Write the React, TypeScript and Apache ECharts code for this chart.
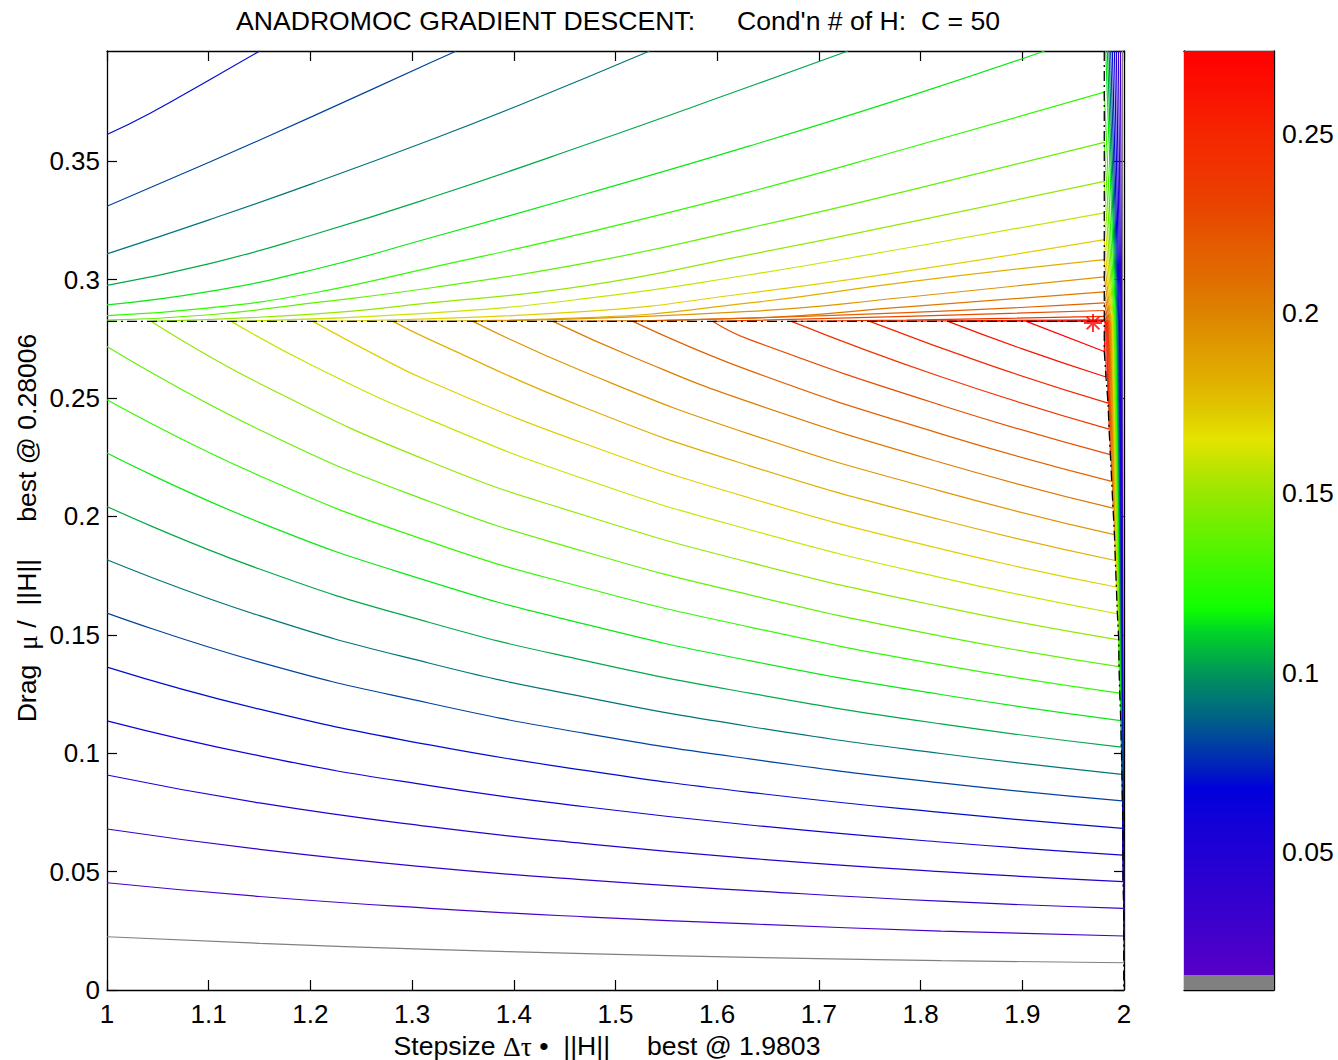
import React, { useEffect, useRef } from "react";
import * as echarts from "echarts";

// ---------- axes ----------
const X_MIN = 1;
const X_MAX = 2;
const X_STEP = 0.1;
const Y_MIN = 0;
const Y_MAX = 0.3966;
const Y_STEP = 0.05;
const CBAR_MIN = 0.0116;
const CBAR_MAX = 0.2731;
const CBAR_TICKS = [0.05, 0.1, 0.15, 0.2, 0.25];
const CBAR_GRAY = [0.0116, 0.0158];

// ---------- contour levels (24 levels) ----------
const LEVELS = [
  0.0135, 0.0248, 0.036, 0.0473, 0.0585, 0.0698, 0.081, 0.0923, 0.1035, 0.1148, 0.126, 0.1373,
  0.1485, 0.1598, 0.171, 0.1823, 0.1935, 0.2048, 0.216, 0.2273, 0.2385, 0.2498, 0.261, 0.2723,
];

// ---------- colormap ----------
const CMAP_VALUES = [
  0.0158, 0.03, 0.045, 0.06, 0.068, 0.072, 0.077, 0.082, 0.087, 0.092, 0.097, 0.102, 0.107, 0.112,
  0.118, 0.13, 0.14, 0.15, 0.158, 0.165, 0.172, 0.18, 0.19, 0.2, 0.21, 0.22, 0.23, 0.24, 0.25, 0.26,
  0.2731,
];
const CMAP_COLORS = [
  "#5800c8", "#3e00cc", "#2800d2", "#1000d8", "#0000dc", "#0018c4", "#0030b0", "#00489c", "#006088",
  "#007478", "#008866", "#00a050", "#00bc3a", "#00d824", "#10ff00", "#40f800", "#6cf000", "#98e800",
  "#c0e400", "#e4e400", "#e0cc00", "#e0b400", "#e09c00", "#dd8400", "#e06c00", "#e45a00", "#e84400",
  "#f03400", "#f52600", "#fa1400", "#ff0000",
];
const GRAY = "#808080";

// ---------- contour lines below the dashed line (index = level) ----------
const LOWER_LINES = [
  [[1, 0.0225], [1.15, 0.0197], [1.3173, 0.0172], [1.47, 0.0154], [1.6319, 0.0138], [1.82, 0.0124], [1.9997, 0.0115]],
  [[1, 0.0453], [1.15, 0.0395], [1.3173, 0.0345], [1.47, 0.0309], [1.6319, 0.0279], [1.82, 0.0249], [1.9997, 0.0228]],
  [[1, 0.068], [1.15, 0.0594], [1.3173, 0.0518], [1.47, 0.0465], [1.6319, 0.042], [1.82, 0.0375], [1.9997, 0.0345]],
  [[1, 0.0908], [1.15, 0.079], [1.3173, 0.069], [1.47, 0.0618], [1.6319, 0.0556], [1.82, 0.05], [1.999, 0.0458]],
  [[1, 0.1137], [1.15, 0.0989], [1.3173, 0.0863], [1.47, 0.0774], [1.6319, 0.0697], [1.82, 0.0625], [1.999, 0.057]],
  [[1, 0.1364], [1.15, 0.1186], [1.3173, 0.1035], [1.47, 0.0928], [1.6319, 0.0835], [1.82, 0.075], [1.999, 0.0683]],
  [[1, 0.1592], [1.15, 0.1385], [1.3173, 0.1211], [1.47, 0.1084], [1.6319, 0.0976], [1.82, 0.0875], [1.9984, 0.0799]],
  [[1, 0.1817], [1.15, 0.1581], [1.3173, 0.138], [1.47, 0.1237], [1.6319, 0.1113], [1.82, 0.0999], [1.998, 0.0911]],
  [[1, 0.2042], [1.15, 0.1778], [1.3173, 0.1552], [1.47, 0.1391], [1.6319, 0.1254], [1.82, 0.1124], [1.9974, 0.1026]],
  [[1, 0.2268], [1.15, 0.1975], [1.3173, 0.1725], [1.47, 0.1545], [1.6319, 0.1391], [1.82, 0.1248], [1.9968, 0.1138]],
  [[1, 0.2493], [1.15, 0.2172], [1.3173, 0.1894], [1.47, 0.1699], [1.6319, 0.1533], [1.82, 0.1373], [1.9958, 0.1254]],
  [[1, 0.2718], [1.15, 0.2366], [1.3173, 0.2063], [1.47, 0.1851], [1.6319, 0.1669], [1.82, 0.1495], [1.9951, 0.1366]],
  [[1.0437, 0.2824], [1.15, 0.2562], [1.3173, 0.2232], [1.47, 0.2004], [1.6319, 0.1806], [1.82, 0.1619], [1.9948, 0.1479]],
  [[1.1223, 0.2824], [1.2, 0.2642], [1.3173, 0.2409], [1.47, 0.2157], [1.6319, 0.1944], [1.82, 0.1742], [1.9935, 0.1589]],
  [[1.2026, 0.2824], [1.26, 0.2691], [1.3173, 0.257], [1.47, 0.2307], [1.6319, 0.2078], [1.82, 0.1863], [1.9925, 0.1702]],
  [[1.2812, 0.2824], [1.3173, 0.2747], [1.47, 0.2459], [1.6319, 0.2214], [1.82, 0.1986], [1.9915, 0.1814]],
  [[1.3599, 0.2824], [1.47, 0.2609], [1.6319, 0.2348], [1.82, 0.2107], [1.9906, 0.1923]],
  [[1.4385, 0.2824], [1.52, 0.2668], [1.6319, 0.2483], [1.82, 0.2228], [1.9892, 0.2035]],
  [[1.5172, 0.2824], [1.6319, 0.2616], [1.82, 0.2349], [1.9879, 0.2148]],
  [[1.5959, 0.2824], [1.6319, 0.2747], [1.82, 0.247], [1.9866, 0.2261]],
  [[1.673, 0.2824], [1.82, 0.259], [1.9853, 0.2369]],
  [[1.75, 0.2824], [1.87, 0.2636], [1.9843, 0.2479]],
  [[1.8269, 0.2824], [1.9, 0.2708], [1.9823, 0.2589]],
  [[1.904, 0.2824], [1.9806, 0.2697]],
];

// ---------- contour lines above the dashed line (first one is level 5) ----------
const UPPER_FIRST_LEVEL = 5;
const UPPER_LINES = [
  [[1, 0.3613], [1.042, 0.3702], [1.101, 0.3845], [1.1501, 0.3966]],
  [[1, 0.331], [1.101, 0.3497], [1.2026, 0.3691], [1.3173, 0.3915], [1.3436, 0.3966]],
  [[1, 0.3109], [1.101, 0.3254], [1.2026, 0.3407], [1.3173, 0.3589], [1.4058, 0.3738], [1.5336, 0.3966]],
  [[1, 0.2976], [1.101, 0.3068], [1.2026, 0.319], [1.3173, 0.3345], [1.4714, 0.3571], [1.6319, 0.3816], [1.7286, 0.3966]],
  [[1, 0.2894], [1.101, 0.2951], [1.2026, 0.3042], [1.3173, 0.3176], [1.4714, 0.3363], [1.6319, 0.3565], [1.786, 0.3771], [1.922, 0.3966]],
  [[1, 0.2848], [1.101, 0.2881], [1.2026, 0.2944], [1.3173, 0.305], [1.4714, 0.3199], [1.6319, 0.3371], [1.786, 0.3554], [1.9806, 0.3792]],
  [[1, 0.2829], [1.101, 0.2852], [1.2026, 0.2902], [1.3173, 0.2965], [1.4714, 0.3071], [1.6319, 0.3219], [1.786, 0.3374], [1.9806, 0.358]],
  [[1.0437, 0.2824], [1.2026, 0.2855], [1.3173, 0.2902], [1.4714, 0.2975], [1.6319, 0.3106], [1.786, 0.324], [1.9806, 0.3415]],
  [[1.1223, 0.2824], [1.3173, 0.2859], [1.4714, 0.2921], [1.6319, 0.3021], [1.786, 0.3134], [1.9806, 0.3282]],
  [[1.2026, 0.2824], [1.4714, 0.2866], [1.6319, 0.2944], [1.786, 0.3036], [1.9806, 0.3169]],
  [[1.2812, 0.2824], [1.4714, 0.284], [1.6319, 0.2902], [1.786, 0.299], [1.9806, 0.3085]],
  [[1.3599, 0.2824], [1.6319, 0.2866], [1.786, 0.2926], [1.9806, 0.3012]],
  [[1.4385, 0.2824], [1.6319, 0.2838], [1.786, 0.2885], [1.9806, 0.2949]],
  [[1.5172, 0.2824], [1.786, 0.2861], [1.9806, 0.2902]],
  [[1.5959, 0.2824], [1.786, 0.2845], [1.9806, 0.287]],
  [[1.673, 0.2824], [1.786, 0.2829], [1.9806, 0.2845]],
  [[1.75, 0.2824], [1.9806, 0.2831]],
  [[1.8269, 0.2824], [1.9806, 0.2827]],
  [[1.904, 0.2824], [1.9806, 0.2825]],
];

// ---------- steep contours right of the boundary (index = level) ----------
const RIGHT_LINES = [
  [[1.9997, 0.0115], [1.9985, 0.2817], [1.9984, 0.3966]],
  [[1.9997, 0.0228], [1.9977, 0.2817], [1.9965, 0.3966]],
  [[1.9997, 0.0345], [1.997, 0.2817], [1.9945, 0.3966]],
  [[1.999, 0.0458], [1.9963, 0.2817], [1.9925, 0.3966]],
  [[1.999, 0.057], [1.9955, 0.2817], [1.9906, 0.3966]],
  [[1.999, 0.0683], [1.9948, 0.2817], [1.9886, 0.3966]],
  [[1.9984, 0.0799], [1.9941, 0.2817], [1.9869, 0.3966]],
  [[1.998, 0.0911], [1.9933, 0.2817], [1.9853, 0.3966]],
  [[1.9974, 0.1026], [1.9926, 0.2817], [1.9837, 0.3966]],
  [[1.9968, 0.1138], [1.9918, 0.2817], [1.982, 0.3966]],
  [[1.9958, 0.1254], [1.9911, 0.2817], [1.9806, 0.3792]],
  [[1.9951, 0.1366], [1.9904, 0.2817], [1.9806, 0.358]],
  [[1.9948, 0.1479], [1.9896, 0.2817], [1.9806, 0.3415]],
  [[1.9935, 0.1589], [1.9889, 0.2817], [1.9806, 0.3282]],
  [[1.9925, 0.1702], [1.9882, 0.2817], [1.9806, 0.3169]],
  [[1.9915, 0.1814], [1.9874, 0.2817], [1.9806, 0.3085]],
  [[1.9906, 0.1923], [1.9867, 0.2817], [1.9806, 0.3012]],
  [[1.9892, 0.2035], [1.986, 0.2817], [1.9806, 0.2949]],
  [[1.9879, 0.2148], [1.9852, 0.2817], [1.9806, 0.2902]],
  [[1.9866, 0.2261], [1.9845, 0.2817], [1.9806, 0.287]],
  [[1.9853, 0.2369], [1.9838, 0.2817], [1.9806, 0.2845]],
  [[1.9843, 0.2479], [1.983, 0.2817], [1.9806, 0.2831]],
  [[1.9823, 0.2589], [1.9823, 0.2817], [1.9806, 0.2827]],
  [[1.9806, 0.2697], [1.9815, 0.2817], [1.9806, 0.2825]],
];

// ---------- dash-dot boundaries and best point ----------
const DASHED_H = [[1, 0.2824], [1.9806, 0.2824]];
const DASHED_BOUNDARY = [
  [1.9806, 0.3966], [1.9806, 0.2824], [1.9806, 0.2697], [1.9823, 0.2589], [1.9843, 0.2479],
  [1.9853, 0.2369], [1.9866, 0.2261], [1.9879, 0.2148], [1.9892, 0.2035], [1.9906, 0.1923],
  [1.9915, 0.1814], [1.9925, 0.1702], [1.9935, 0.1589], [1.9948, 0.1479], [1.9951, 0.1366],
  [1.9958, 0.1254], [1.9968, 0.1138], [1.9974, 0.1026], [1.998, 0.0911], [1.9984, 0.0799],
  [1.999, 0.0683], [1.999, 0.057], [1.999, 0.0458], [1.9997, 0.0345], [1.9997, 0.0228],
  [1.9997, 0.0115], [1.9997, 0],
];
const BEST_POINT = [1.9695, 0.2817];

// ---------- texts ----------
const TITLE_LEFT = "ANADROMOC GRADIENT DESCENT:";
const TITLE_RIGHT = "Cond'n # of H:\u00a0\u00a0C = 50";
const X_LABEL = "Stepsize {g|\u0394\u03c4} \u2022\u00a0\u00a0||H||\u00a0\u00a0\u00a0\u00a0\u00a0best @ 1.9803";
const Y_LABEL = "Drag\u00a0\u00a0{g|\u03bc} /\u00a0\u00a0||H||\u00a0\u00a0\u00a0\u00a0\u00a0best @ 0.28006";

const FONT = "'Liberation Sans', Arial, Helvetica, sans-serif";
const SERIF = "'Liberation Serif', 'DejaVu Serif', serif";
const FS_TICK = 26;
const FS_TEXT = 26.6;

function hexToRgb(h: string) {
  const n = parseInt(h.slice(1), 16);
  return [(n >> 16) & 255, (n >> 8) & 255, n & 255];
}
function colorFor(v: number) {
  if (v <= CMAP_VALUES[0]) return CMAP_COLORS[0];
  for (let i = 0; i < CMAP_VALUES.length - 1; i++) {
    const a = CMAP_VALUES[i], b = CMAP_VALUES[i + 1];
    if (v <= b) {
      const t = (v - a) / (b - a);
      const c0 = hexToRgb(CMAP_COLORS[i]), c1 = hexToRgb(CMAP_COLORS[i + 1]);
      const c = c0.map((x, j) => Math.round(x + (c1[j] - x) * t));
      return `rgb(${c[0]},${c[1]},${c[2]})`;
    }
  }
  return CMAP_COLORS[CMAP_COLORS.length - 1];
}

const fmt = (v: number) => String(+Number(v).toFixed(4));

export default function App() {
  const ref = useRef<HTMLDivElement>(null);
  useEffect(() => {
    if (!ref.current) return;
    const chart = echarts.init(ref.current, null, { renderer: "svg" });

    const series: any[] = [];
    const addLine = (pts: number[][], color: string, smooth: boolean) => {
      series.push({
        type: "line",
        xAxisIndex: 0,
        yAxisIndex: 0,
        data: pts,
        symbol: "none",
        showSymbol: false,
        smooth: smooth ? 0.5 : false,
        silent: true,
        z: 2,
        lineStyle: { color, width: 1.2 },
        itemStyle: { color },
      });
    };
    LOWER_LINES.forEach((pts, k) => addLine(pts, k === 0 ? GRAY : colorFor(LEVELS[k]), true));
    UPPER_LINES.forEach((pts, i) => addLine(pts, colorFor(LEVELS[i + UPPER_FIRST_LEVEL]), true));
    RIGHT_LINES.forEach((pts, k) => addLine(pts, k === 0 ? GRAY : colorFor(LEVELS[k]), false));

    const dashStyle = { color: "#000", width: 1.3, type: [10, 4, 2, 4] };
    series.push({
      type: "line", xAxisIndex: 0, yAxisIndex: 0, data: DASHED_H, symbol: "none",
      silent: true, z: 4, lineStyle: dashStyle,
    });
    series.push({
      type: "line", xAxisIndex: 0, yAxisIndex: 0, data: DASHED_BOUNDARY, symbol: "none",
      silent: true, z: 4, lineStyle: dashStyle,
    });
    series.push({
      type: "scatter", xAxisIndex: 0, yAxisIndex: 0, data: [BEST_POINT], z: 5, silent: true,
      symbol: "path://M12 0L12 24M0 12L24 12M3.5 3.5L20.5 20.5M20.5 3.5L3.5 20.5",
      symbolSize: 18,
      itemStyle: { color: "rgba(0,0,0,0)", borderColor: "#ff0000", borderWidth: 2 },
    });

    // colorbar
    const bands = CMAP_VALUES.slice(0, -1).map((v, i) => [v, CMAP_VALUES[i + 1], i]);
    series.push({
      type: "custom", xAxisIndex: 2, yAxisIndex: 2, data: bands, silent: true, clip: false, z: 1,
      renderItem: (params: any, api: any) => {
        const v0 = api.value(0), v1 = api.value(1), i = api.value(2);
        const a = api.coord([0, v0]);
        const b = api.coord([1, v1]);
        return {
          type: "rect",
          shape: { x: a[0], y: b[1], width: b[0] - a[0], height: a[1] - b[1] + 0.8 },
          style: {
            fill: new echarts.graphic.LinearGradient(0, 1, 0, 0, [
              { offset: 0, color: CMAP_COLORS[i] },
              { offset: 1, color: CMAP_COLORS[i + 1] },
            ]),
          },
        };
      },
    });
    series.push({
      type: "custom", xAxisIndex: 2, yAxisIndex: 2, data: [CBAR_GRAY], silent: true, clip: false, z: 1,
      renderItem: (params: any, api: any) => {
        const a = api.coord([0, api.value(0)]);
        const b = api.coord([1, api.value(1)]);
        return {
          type: "rect",
          shape: { x: a[0], y: b[1], width: b[0] - a[0], height: a[1] - b[1] },
          style: { fill: GRAY },
        };
      },
    });

    const tick = { inside: true, length: 10, lineStyle: { color: "#000", width: 1.2 } };
    const line = { show: true, onZero: false, lineStyle: { color: "#000", width: 1.3 } };
    const label = { color: "#000", fontSize: FS_TICK, fontFamily: FONT };

    chart.setOption({
      animation: false,
      backgroundColor: "#fff",
      grid: [
        { left: 107, top: 51, width: 1017, height: 939 },
        { left: 1184, top: 51, width: 90, height: 939 },
      ],
      xAxis: [
        {
          gridIndex: 0, type: "value", min: X_MIN, max: X_MAX, interval: X_STEP, position: "bottom",
          axisLine: line, axisTick: tick, splitLine: { show: false },
          axisLabel: { ...label, margin: 11, formatter: fmt },
        },
        {
          gridIndex: 0, type: "value", min: X_MIN, max: X_MAX, interval: X_STEP, position: "top",
          axisLine: line, axisTick: tick, splitLine: { show: false }, axisLabel: { show: false },
        },
        {
          gridIndex: 1, type: "value", min: 0, max: 1, position: "bottom",
          axisLine: line, axisTick: { show: false }, axisLabel: { show: false }, splitLine: { show: false },
        },
        {
          gridIndex: 1, type: "value", min: 0, max: 1, position: "top",
          axisLine: line, axisTick: { show: false }, axisLabel: { show: false }, splitLine: { show: false },
        },
      ],
      yAxis: [
        {
          gridIndex: 0, type: "value", min: Y_MIN, max: Y_MAX, interval: Y_STEP, position: "left",
          axisLine: line, axisTick: tick, splitLine: { show: false },
          axisLabel: { ...label, margin: 7, showMaxLabel: false, formatter: fmt },
        },
        {
          gridIndex: 0, type: "value", min: Y_MIN, max: Y_MAX, interval: Y_STEP, position: "right",
          axisLine: line, axisTick: tick, splitLine: { show: false }, axisLabel: { show: false },
        },
        {
          gridIndex: 1, type: "value", min: CBAR_MIN, max: CBAR_MAX, position: "right",
          axisLine: line, splitLine: { show: false },
          axisTick: { ...tick, customValues: CBAR_TICKS },
          axisLabel: { ...label, fontSize: FS_TEXT, margin: 8, customValues: CBAR_TICKS, formatter: fmt },
        },
        {
          gridIndex: 1, type: "value", min: CBAR_MIN, max: CBAR_MAX, position: "left",
          axisLine: line, splitLine: { show: false },
          axisTick: { ...tick, customValues: CBAR_TICKS },
          axisLabel: { show: false, customValues: CBAR_TICKS },
        },
      ],
      graphic: [
        {
          type: "text", x: 236, y: 21, silent: true,
          style: { text: TITLE_LEFT, fontSize: FS_TEXT, fontFamily: FONT, fill: "#000", textAlign: "left", textVerticalAlign: "middle" },
        },
        {
          type: "text", x: 737, y: 21, silent: true,
          style: { text: TITLE_RIGHT, fontSize: FS_TEXT, fontFamily: FONT, fill: "#000", textAlign: "left", textVerticalAlign: "middle" },
        },
        {
          type: "text", x: 607, y: 1046, silent: true,
          style: {
            text: X_LABEL, fontSize: FS_TEXT, fontFamily: FONT, fill: "#000", textAlign: "center", textVerticalAlign: "middle",
            rich: { g: { fontFamily: SERIF, fontSize: FS_TEXT + 1, fill: "#000" } },
          },
        },
        {
          type: "text", x: 27, y: 528, rotation: Math.PI / 2, silent: true,
          style: {
            text: Y_LABEL, fontSize: FS_TEXT, fontFamily: FONT, fill: "#000", textAlign: "center", textVerticalAlign: "middle",
            rich: { g: { fontFamily: SERIF, fontSize: FS_TEXT + 1, fill: "#000" } },
          },
        },
      ],
      series,
    });
    return () => chart.dispose();
  }, []);
  return (
    <div
      ref={ref}
      style={{ position: "absolute", left: 0, top: 0, width: 1338, height: 1060, background: "#fff" }}
    />
  );
}
